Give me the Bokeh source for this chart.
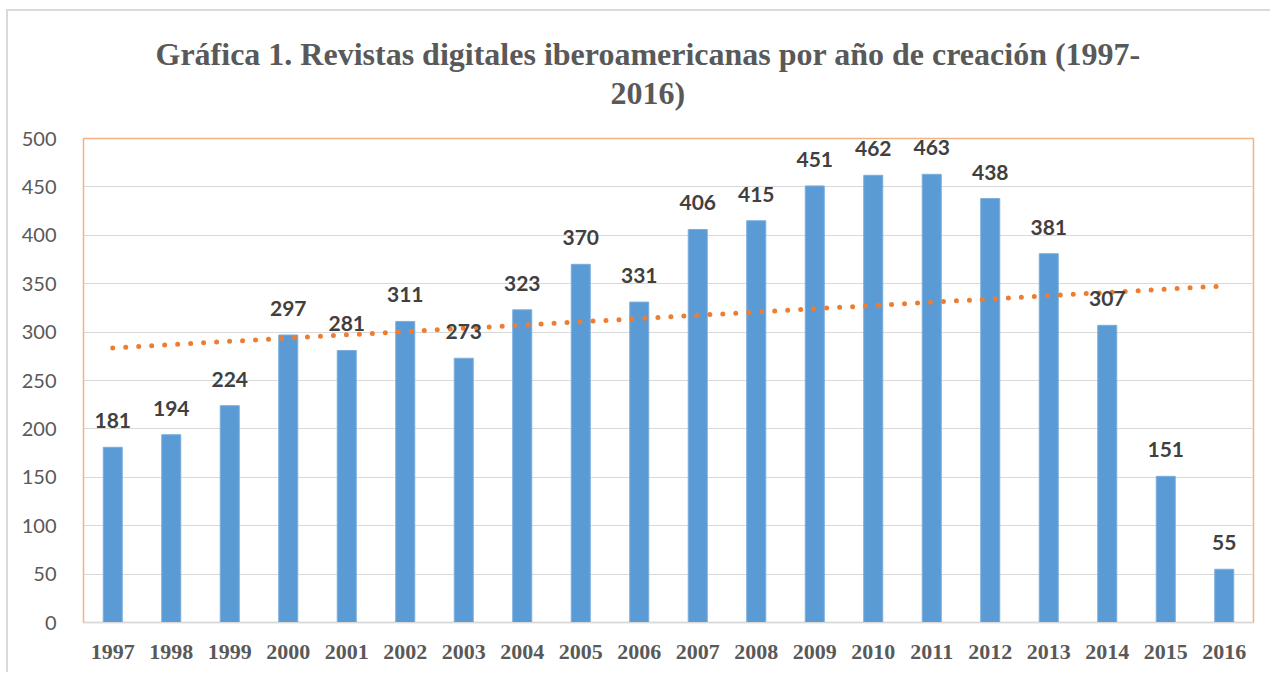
import numpy as np
from bokeh.plotting import figure
from bokeh.models import ColumnDataSource, LabelSet, Title, FixedTicker, FactorRange
from bokeh.core.properties import value
from bokeh.embed import file_html
from bokeh.resources import INLINE

years = ["1997", "1998", "1999", "2000", "2001", "2002", "2003", "2004", "2005", "2006",
         "2007", "2008", "2009", "2010", "2011", "2012", "2013", "2014", "2015", "2016"]
counts = [181, 194, 224, 297, 281, 311, 273, 323, 370, 331,
          406, 415, 451, 462, 463, 438, 381, 307, 151, 55]
title_line1 = "Gráfica 1. Revistas digitales iberoamericanas por año de creación (1997-"
title_line2 = "2016)"

# linear trendline (least squares, as the spreadsheet does)
idx = np.arange(len(counts))
slope, intercept = np.polyfit(idx, counts, 1)
trend = list(intercept + slope * idx)

src = ColumnDataSource(dict(year=years, count=counts, label=[str(c) for c in counts], trend=trend))

p = figure(width=1264, height=663, x_range=FactorRange(*years), y_range=(0, 500),
           output_backend="svg", toolbar_location=None,
           min_border_left=75, min_border_right=19, min_border_top=127, min_border_bottom=52)
p.styles = {"border-left": "2px solid #D9D9D9", "border-top": "2px solid #D9D9D9",
            "margin-left": "6px", "margin-top": "9px"}

p.vbar(x="year", top="count", width=0.325, source=src,
       fill_color="#5B9BD5", line_color="#7AAEDD", line_width=1)

p.line(x="year", y="trend", source=src, line_color="#ED7D31", line_width=5,
       line_dash="0 13", line_cap="round")

labels = LabelSet(x="year", y="count", text="label", source=src, y_offset=19,
                  text_align="center", text_baseline="alphabetic",
                  text_font=value("Lato"), text_font_style="bold", text_font_size="21px",
                  text_color="#404040")
p.add_layout(labels)

# spacing panel between plot frame and the title, then the two title lines
p.add_layout(Title(text=" ", text_font_size="10px", standoff=15), "above")
for txt, so, off in [(title_line2, 0, 527), (title_line1, 1, 72)]:
    p.add_layout(Title(text=txt, align="left", offset=off, standoff=so,
                       text_font="Liberation Serif", text_font_style="bold",
                       text_font_size="32px", text_color="#595959"), "above")

p.outline_line_color = "#F4B183"
p.outline_line_width = 1.5

p.xgrid.grid_line_color = None
p.ygrid.grid_line_color = "#D9D9D9"
p.ygrid.grid_line_width = 1

p.yaxis.ticker = FixedTicker(ticks=list(range(0, 501, 50)))
p.yaxis.axis_line_color = None
p.yaxis.major_tick_line_color = None
p.yaxis.minor_tick_line_color = None
p.yaxis.major_label_standoff = 21
p.yaxis.major_label_text_font = "Lato"
p.yaxis.major_label_text_font_size = "20px"
p.yaxis.major_label_text_color = "#595959"

p.xaxis.axis_line_color = "#D9D9D9"
p.xaxis.major_tick_line_color = None
p.xaxis.minor_tick_line_color = None
p.xaxis.major_label_standoff = 16
p.xaxis.major_label_text_font = "Liberation Serif"
p.xaxis.major_label_text_font_style = "bold"
p.xaxis.major_label_text_font_size = "22px"
p.xaxis.major_label_text_color = "#595959"

p.background_fill_color = "white"
p.border_fill_color = "white"

open("out.html", "w").write(file_html(p, INLINE))
